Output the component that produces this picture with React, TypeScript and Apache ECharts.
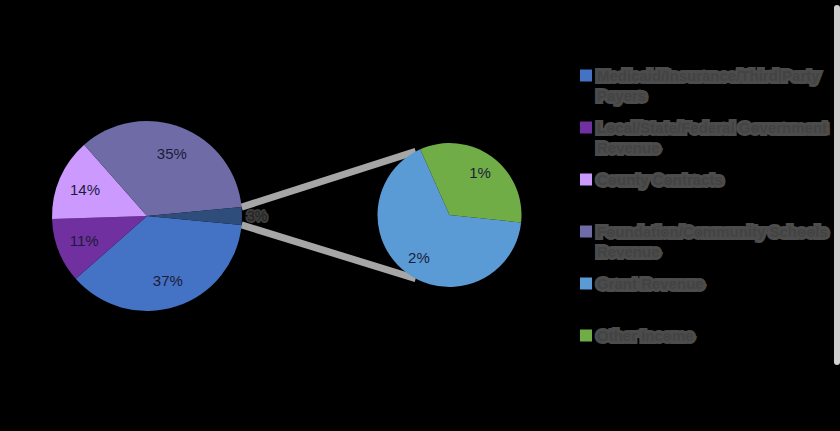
import React, { useEffect, useRef } from "react";
import * as echarts from "echarts";

// ---- data ----
const legendNames = [
  "Medicaid/Insurance/Third Party Payers",
  "Local/State/Federal Government Revenue",
  "County Contracts",
  "Foundation/Community Schools Revenue",
  "Grant Revenue",
  "Other Income",
];
const legendLines = [
  ["Medicaid/Insurance/Third Party", "Payers"],
  ["Local/State/Federal Government", "Revenue"],
  ["County Contracts", ""],
  ["Foundation/Community Schools", "Revenue"],
  ["Grant Revenue", ""],
  ["Other Income", ""],
];
const mainNames = [legendNames[0], legendNames[1], legendNames[2], legendNames[3], "Other"];
const mainValues = [37, 11, 14, 35, 3];
const subNames = [legendNames[4], legendNames[5]];
const subValues = [2, 1];

// ---- style ----
const mainColors = ["#4472C4", "#7030A0", "#CC99FF", "#6F6BA6", "#2E4D7B"];
const subColors = ["#5B9BD5", "#70AD47"];

export default function App() {
  const ref = useRef<HTMLDivElement>(null);

  useEffect(() => {
    if (!ref.current) return;
    const chart = echarts.init(ref.current, null, { renderer: "svg" });

    const c1 = [147, 216];
    const r1 = 95;
    const c2 = [449.5, 215];
    const r2 = 72;

    const total = mainValues.reduce((a, b) => a + b, 0);
    const otherVal = mainValues[mainValues.length - 1];
    const halfDeg = (otherVal / total) * 180;
    const startMain = -halfDeg;
    const subStart = -6;
    const connAngle = (118 * Math.PI) / 180;
    const h = (halfDeg * Math.PI) / 180;

    const p1a = [c1[0] + r1 * Math.cos(h), c1[1] - r1 * Math.sin(h)];
    const p1b = [c1[0] + r1 * Math.cos(h), c1[1] + r1 * Math.sin(h)];
    const p2a = [c2[0] + r2 * Math.cos(connAngle), c2[1] - r2 * Math.sin(connAngle)];
    const p2b = [c2[0] + r2 * Math.cos(connAngle), c2[1] + r2 * Math.sin(connAngle)];

    const labelStyle = {
      color: "#1b1b3a",
      fontSize: 15,
      fontFamily: "Liberation Sans, Arial, sans-serif",
    };

    const option = {
      animation: false,
      backgroundColor: "#000000",
      legend: {
        data: legendNames,
        orient: "vertical",
        left: 580,
        top: 45,
        padding: 0,
        itemWidth: 12,
        itemHeight: 12,
        itemGap: -9,
        itemTextGap: 5,
        icon: "rect",
        selectedMode: false,
        formatter: (name: string) => {
          const i = legendNames.indexOf(name);
          const [a, b] = legendLines[i];
          return "\n" + a + "\n" + b;
        },
        textStyle: {
          color: "#434343",
          fontSize: 15,
          fontWeight: "bold",
          fontFamily: "Liberation Sans, Arial, sans-serif",
          lineHeight: 20,
          textBorderColor: "#4c4c4c",
          textBorderWidth: 6,
        },
      },
      graphic: [
        {
          type: "line",
          z: 1,
          shape: { x1: p1a[0], y1: p1a[1], x2: p2a[0], y2: p2a[1] },
          style: { stroke: "#a6a6a6", lineWidth: 7 },
        },
        {
          type: "line",
          z: 1,
          shape: { x1: p1b[0], y1: p1b[1], x2: p2b[0], y2: p2b[1] },
          style: { stroke: "#a6a6a6", lineWidth: 7 },
        },
        {
          type: "rect",
          z: 1,
          shape: { x: 834, y: 5, width: 6, height: 360, r: 3 },
          style: { fill: "#d0d0d0" },
        },
      ],
      series: [
        {
          type: "pie",
          center: c1,
          radius: [0, r1],
          startAngle: startMain,
          clockwise: true,
          silent: true,
          label: { show: false },
          labelLine: { show: false },
          data: mainNames.map((n, i) => ({
            name: n,
            value: mainValues[i],
            itemStyle: { color: mainColors[i] },
          })),
        },
        {
          type: "pie",
          center: c2,
          radius: [0, r2],
          startAngle: subStart,
          clockwise: true,
          silent: true,
          label: { show: false },
          labelLine: { show: false },
          data: subNames.map((n, i) => ({
            name: n,
            value: subValues[i],
            itemStyle: { color: subColors[i] },
          })),
        },
        {
          type: "pie",
          center: c1,
          radius: [r1 * 0.36, r1],
          startAngle: startMain,
          clockwise: true,
          silent: true,
          legendHoverLink: false,
          avoidLabelOverlap: false,
          itemStyle: { color: "rgba(0,0,0,0)" },
          label: {
            show: true,
            position: "inside",
            formatter: (p: any) => p.value + "%",
            ...labelStyle,
          },
          labelLine: { show: false },
          data: mainNames.map((n, i) =>
            i === mainNames.length - 1
              ? {
                  name: n,
                  value: mainValues[i],
                  label: {
                    position: "outside",
                    color: "#222222",
                    fontSize: 14,
                    textBorderColor: "#3c3c3c",
                    textBorderWidth: 4,
                  },
                  labelLine: { show: false, length: 0, length2: 0 },
                }
              : { name: n, value: mainValues[i] }
          ),
        },
        {
          type: "pie",
          center: c2,
          radius: [r2 * 0.36, r2],
          startAngle: subStart,
          clockwise: true,
          silent: true,
          legendHoverLink: false,
          itemStyle: { color: "rgba(0,0,0,0)" },
          label: {
            show: true,
            position: "inside",
            formatter: (p: any) => p.value + "%",
            ...labelStyle,
          },
          labelLine: { show: false },
          data: subNames.map((n, i) => ({ name: n, value: subValues[i] })),
        },
      ],
    };

    chart.setOption(option as any);
    return () => chart.dispose();
  }, []);

  return (
    <div
      ref={ref}
      style={{ position: "absolute", left: 0, top: 0, width: 840, height: 431 }}
    />
  );
}
